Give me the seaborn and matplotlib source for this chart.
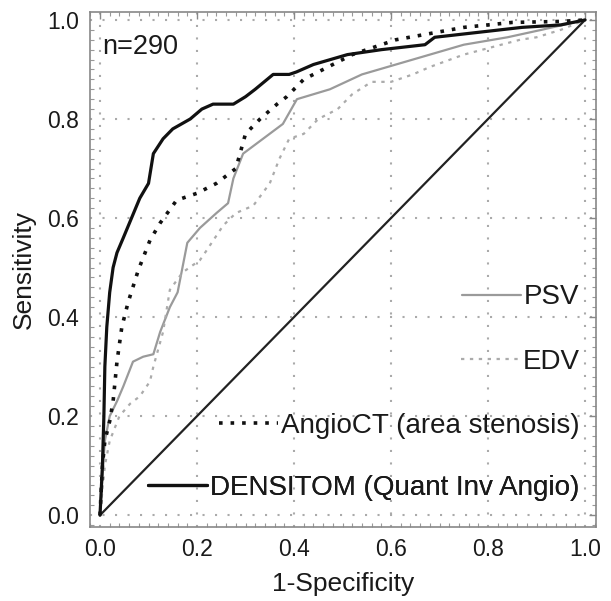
import numpy as np
import pandas as pd
import matplotlib
matplotlib.use("Agg")
import matplotlib.pyplot as plt
from matplotlib.ticker import MultipleLocator
import seaborn as sns

sns.set_theme(style="white")
plt.rcParams['font.family'] = ['Liberation Sans', 'DejaVu Sans']

# ---- data ----
dens_fpr = [0, 0.005, 0.008, 0.01, 0.014, 0.02, 0.027, 0.035, 0.048, 0.065, 0.082, 0.1, 0.105, 0.11,
            0.13, 0.15, 0.186, 0.21, 0.233, 0.275, 0.30, 0.32, 0.357, 0.39, 0.405, 0.44, 0.51, 0.58,
            0.67, 0.69, 0.78, 0.87, 0.95, 1.0]
dens_tpr = [0, 0.10, 0.20, 0.30, 0.38, 0.45, 0.50, 0.53, 0.56, 0.60, 0.64, 0.67, 0.70, 0.73,
            0.76, 0.78, 0.80, 0.82, 0.83, 0.83, 0.845, 0.86, 0.89, 0.89, 0.895, 0.91, 0.93, 0.94,
            0.95, 0.965, 0.975, 0.985, 0.99, 1.0]

ct_fpr = [0, 0.005, 0.01, 0.02, 0.027, 0.035, 0.045, 0.058, 0.079, 0.103, 0.124, 0.158, 0.2, 0.24,
          0.28, 0.30, 0.33, 0.365, 0.385, 0.42, 0.46, 0.52, 0.61, 0.75, 0.85, 0.95, 1.0]
ct_tpr = [0, 0.10, 0.15, 0.19, 0.23, 0.31, 0.38, 0.43, 0.495, 0.555, 0.59, 0.636, 0.65, 0.67,
          0.70, 0.77, 0.80, 0.83, 0.845, 0.88, 0.90, 0.93, 0.96, 0.985, 0.995, 0.997, 1.0]

psv_fpr = [0, 0.005, 0.01, 0.02, 0.035, 0.048, 0.06, 0.068, 0.089, 0.11, 0.124, 0.144, 0.16, 0.17,
           0.18, 0.206, 0.24, 0.264, 0.275, 0.295, 0.336, 0.377, 0.406, 0.474, 0.54, 0.61, 0.68,
           0.75, 0.84, 0.91, 1.0]
psv_tpr = [0, 0.08, 0.15, 0.20, 0.23, 0.26, 0.29, 0.31, 0.32, 0.325, 0.37, 0.42, 0.45, 0.50,
           0.55, 0.58, 0.61, 0.63, 0.68, 0.73, 0.76, 0.79, 0.84, 0.86, 0.89, 0.91, 0.93,
           0.95, 0.965, 0.98, 1.0]

edv_fpr = [0, 0.005, 0.01, 0.02, 0.04, 0.062, 0.082, 0.103, 0.11, 0.13, 0.144, 0.17, 0.206, 0.22,
           0.254, 0.28, 0.316, 0.35, 0.37, 0.39, 0.42, 0.45, 0.49, 0.52, 0.56, 0.60, 0.645, 0.68,
           0.75, 0.866, 0.90, 0.95, 1.0]
edv_tpr = [0, 0.05, 0.10, 0.15, 0.20, 0.225, 0.24, 0.27, 0.30, 0.37, 0.455, 0.49, 0.515, 0.535,
           0.585, 0.61, 0.625, 0.67, 0.72, 0.76, 0.77, 0.80, 0.82, 0.85, 0.875, 0.875, 0.89, 0.905,
           0.93, 0.96, 0.965, 0.98, 1.0]

ref_x = [0.0, 1.0]
ref_y = [0.0, 1.0]

labels = ["PSV", "EDV", "AngioCT (area stenosis)", "DENSITOM (Quant Inv Angio)"]
n_text = "n=290"
ticks = [0.0, 0.2, 0.4, 0.6, 0.8, 1.0]
tick_labels = ["0.0", "0.2", "0.4", "0.6", "0.8", "1.0"]

# ---- figure ----
fig = plt.figure(figsize=(6.11, 6.01), dpi=100)
ax = fig.add_axes([0.147, 0.123, 0.828, 0.857])

styles = [
    (psv_fpr, psv_tpr, dict(color="#9a9a9a", lw=1.6, ls="-")),
    (edv_fpr, edv_tpr, dict(color="#ababab", lw=1.6, ls=(0, (1.5, 2.5)))),
    (ct_fpr, ct_tpr, dict(color="#111111", lw=2.6, ls=(0, (1.0, 2.2)))),
    (dens_fpr, dens_tpr, dict(color="#111111", lw=2.3, ls="-")),
]

sns.lineplot(x=ref_x, y=ref_y, ax=ax, color="#222222", lw=1.6, sort=False, estimator=None)

handles = []
for (fx, fy, st), lab in zip(styles, labels):
    df = pd.DataFrame({"fpr": fx, "tpr": fy})
    sns.lineplot(data=df, x="fpr", y="tpr", ax=ax, sort=False, estimator=None,
                 color=st["color"], linewidth=st["lw"], linestyle=st["ls"])
    handles.append(ax.lines[-1])

ax.set_xlim(-0.021, 1.022)
ax.set_ylim(-0.024, 1.016)
ax.set_xticks(ticks)
ax.set_xticklabels(tick_labels)
ax.set_yticks(ticks)
ax.set_yticklabels(tick_labels)
ax.xaxis.set_minor_locator(MultipleLocator(0.02))
ax.yaxis.set_minor_locator(MultipleLocator(0.02))
ax.tick_params(which="major", direction="in", length=5, width=1, color="#888888",
               labelsize=16.5, top=True, right=True, pad=8, labelcolor="#1a1a1a")
ax.tick_params(which="minor", direction="in", length=3, width=0.8, color="#999999",
               top=True, right=True, bottom=True, left=True)
ax.grid(True, which="major", color="#aaaaaa", linestyle=(0, (1, 5)), linewidth=1.5)
for sp in ax.spines.values():
    sp.set_color("#888888")
    sp.set_linewidth(1.2)

ax.set_xlabel("1-Specificity", fontsize=19, color="#1a1a1a", labelpad=8)
ax.set_ylabel("Sensitivity", fontsize=19, color="#1a1a1a", labelpad=8)

ax.text(0.005, 0.945, n_text, fontsize=19.5, color="#1a1a1a", ha="left", va="center",
        transform=ax.transData)

# legends: one per entry, right-aligned with handle before text
ypos = [0.446, 0.321, 0.196, 0.076]
for h, lab, yp in zip(handles, labels, ypos):
    leg = ax.legend([h], [lab], loc="center right", bbox_to_anchor=(0.968, yp),
                    frameon=False, fontsize=20, handlelength=2.1, handletextpad=0.12,
                    borderpad=0, borderaxespad=0, labelcolor="#1a1a1a")
    ax.add_artist(leg)

fig.savefig("out.png", dpi=100)
